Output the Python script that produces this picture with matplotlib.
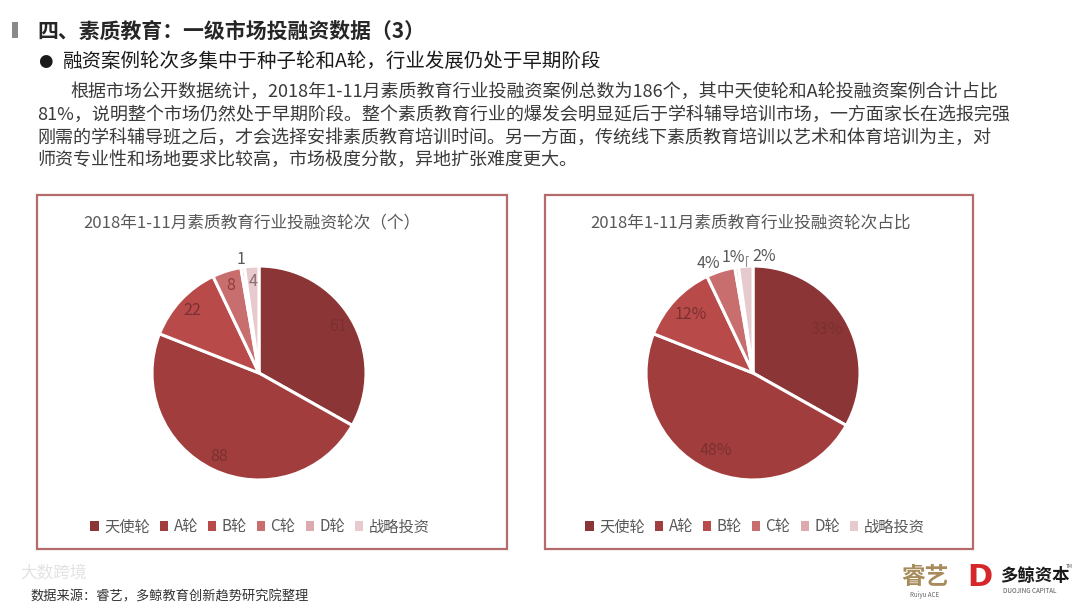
import matplotlib
matplotlib.use("Agg")
import matplotlib.pyplot as plt
from matplotlib.patches import Rectangle
import numpy as np

plt.rcParams['font.family'] = ['Noto Sans CJK SC', 'DejaVu Sans']

# ---- data ----
categories = ['天使轮', 'A轮', 'B轮', 'C轮', 'D轮', '战略投资']
counts = [61, 88, 22, 8, 1, 4]
colors = ['#8C3536', '#A23D3E', '#B94A4A', '#C96E6F', '#DCA9AE', '#E6CACD']
title_left = '2018年1-11月素质教育行业投融资轮次（个）'
title_right = '2018年1-11月素质教育行业投融资轮次占比'
page_title = '四、素质教育：一级市场投融资数据（3）'
subtitle = '融资案例轮次多集中于种子轮和A轮，行业发展仍处于早期阶段'
body_lines = [
    '根据市场公开数据统计，2018年1-11月素质教育行业投融资案例总数为186个，其中天使轮和A轮投融资案例合计占比',
    '81%，说明整个市场仍然处于早期阶段。整个素质教育行业的爆发会明显延后于学科辅导培训市场，一方面家长在选报完强',
    '刚需的学科辅导班之后，才会选择安排素质教育培训时间。另一方面，传统线下素质教育培训以艺术和体育培训为主，对',
    '师资专业性和场地要求比较高，市场极度分散，异地扩张难度更大。',
]
source = '数据来源：睿艺，多鲸教育创新趋势研究院整理'

W, H = 1080, 608
fig = plt.figure(figsize=(W / 100, H / 100), dpi=100)
fig.patch.set_facecolor('white')


def fx(x):
    return x / W


def fy(y):
    return 1 - y / H


# ---- header ----
fig.patches.append(Rectangle((fx(12), fy(38)), 6 / W, 16 / H, transform=fig.transFigure,
                             facecolor='#8a8a8a', edgecolor='none'))
fig.text(fx(37), fy(31), page_title, fontsize=15, fontweight='bold', color='#262626',
         ha='left', va='center')
fig.text(fx(45), fy(61), '●', fontsize=12, color='#1a1a1a', ha='center', va='center',
         family=['DejaVu Sans'])
fig.text(fx(63), fy(61), subtitle, fontsize=14, color='#1a1a1a', ha='left', va='center')
body_x = [70, 37, 37, 37]
body_y = [92, 115, 138, 160]
for t, x, y in zip(body_lines, body_x, body_y):
    fig.text(fx(x), fy(y), t, fontsize=13.0, color='#3a3a3a', ha='left', va='center')

# ---- boxes ----
for (x0, y0, x1, y1) in [(37, 195, 507, 549), (545, 195, 973, 549)]:
    fig.patches.append(Rectangle((fx(x0), fy(y1)), (x1 - x0) / W, (y1 - y0) / H,
                                 transform=fig.transFigure, facecolor='none',
                                 edgecolor='#B56B6C', linewidth=1.6))


def make_pie(cx, cy, r, labels, inner_dist, outer):
    ax = fig.add_axes([fx(cx - r), fy(cy + r), 2 * r / W, 2 * r / H])
    wedges, texts = ax.pie(counts, colors=colors, startangle=90, counterclock=False,
                           labels=labels, labeldistance=inner_dist,
                           wedgeprops=dict(edgecolor='white', linewidth=2.2),
                           textprops=dict(fontsize=11.5, color='#7A3030'))
    ax.set_xlim(-1, 1)
    ax.set_ylim(-1, 1)
    ax.set_aspect('equal')
    ax.axis('off')
    for t in texts:
        t.set_ha('center')
        t.set_va('center')
        t.set_clip_on(False)
    for i, (dist, dang) in outer.items():
        w = wedges[i]
        ang = np.deg2rad((w.theta1 + w.theta2) / 2 + dang)
        texts[i].set_position((dist * np.cos(ang), dist * np.sin(ang)))
        texts[i].set_color('#595959')
    return ax, wedges, texts


# left pie
axL, wL, tL = make_pie(259, 373, 107, [str(v) for v in counts], 0.86,
                       {4: (1.07, 0.0)})
tL[5].set_color('#8a6b6e')
tL[3].set_color('#8E3C3D')

# right pie
total = sum(counts)
pct_labels = ['%d%%' % round(v / total * 100) for v in counts]
axR, wR, tR = make_pie(753, 373, 107, pct_labels, 0.80,
                       {3: (1.10, 4.5), 4: (1.10, 1.0)})
# leader line for the last slice
w = wR[5]
ang = np.deg2rad((w.theta1 + w.theta2) / 2)
tR[5].set_visible(False)
axR.annotate(pct_labels[5], xy=(np.cos(ang), np.sin(ang)),
             xytext=(-0.01, 1.09), ha='left', va='center', fontsize=11.5,
             color='#595959', annotation_clip=False,
             arrowprops=dict(arrowstyle='-', color='#8c8c8c', lw=0.8,
                             connectionstyle='angle,angleA=180,angleB=90,rad=0',
                             relpos=(0, 0.5), shrinkA=1, shrinkB=0))

# titles
fig.text(fx(252), fy(223), title_left, fontsize=12, color='#595959', ha='center', va='center')
fig.text(fx(751), fy(223), title_right, fontsize=12, color='#595959', ha='center', va='center')

# legends
for ax, wedges, cx in [(axL, wL, 260), (axR, wR, 755)]:
    leg = fig.legend(wedges, categories, ncol=6, loc='center',
                     bbox_to_anchor=(fx(cx), fy(527)), frameon=False,
                     fontsize=11, handlelength=0.55, handleheight=0.55,
                     handletextpad=0.35, columnspacing=0.65, borderpad=0)
    for h in leg.legend_handles:
        h.set_edgecolor('none')
    for t in leg.get_texts():
        t.set_color('#595959')

# ---- footer ----
fig.text(fx(30), fy(597), source, fontsize=9.5, color='#333333', ha='left', va='center')
fig.text(fx(20), fy(574), '大数跨境', fontsize=12, color='#d0d0d0', alpha=0.6,
         ha='left', va='center')
fig.text(fx(925), fy(577), '睿艺', fontsize=17, color='#A78B5A', ha='center', va='center',
         fontweight='bold')
fig.text(fx(925), fy(595), 'Ruiyu ACE', fontsize=4.5, color='#666666', ha='center',
         va='center')
fig.text(fx(980), fy(578), 'D', fontsize=22, color='#D7262A', ha='center', va='center',
         fontweight='bold', family=['DejaVu Sans'])
fig.text(fx(1000), fy(576), '多鲸资本', fontsize=12.5, color='#1a1a1a', ha='left', va='center',
         fontweight='bold')
fig.text(fx(1003), fy(591), 'DUOJING CAPITAL', fontsize=4.5, color='#555555', ha='left',
         va='center')
fig.text(fx(1066), fy(566), 'TM', fontsize=3.5, color='#555555', ha='left', va='center')

fig.savefig('out.png', dpi=100, facecolor='white')
